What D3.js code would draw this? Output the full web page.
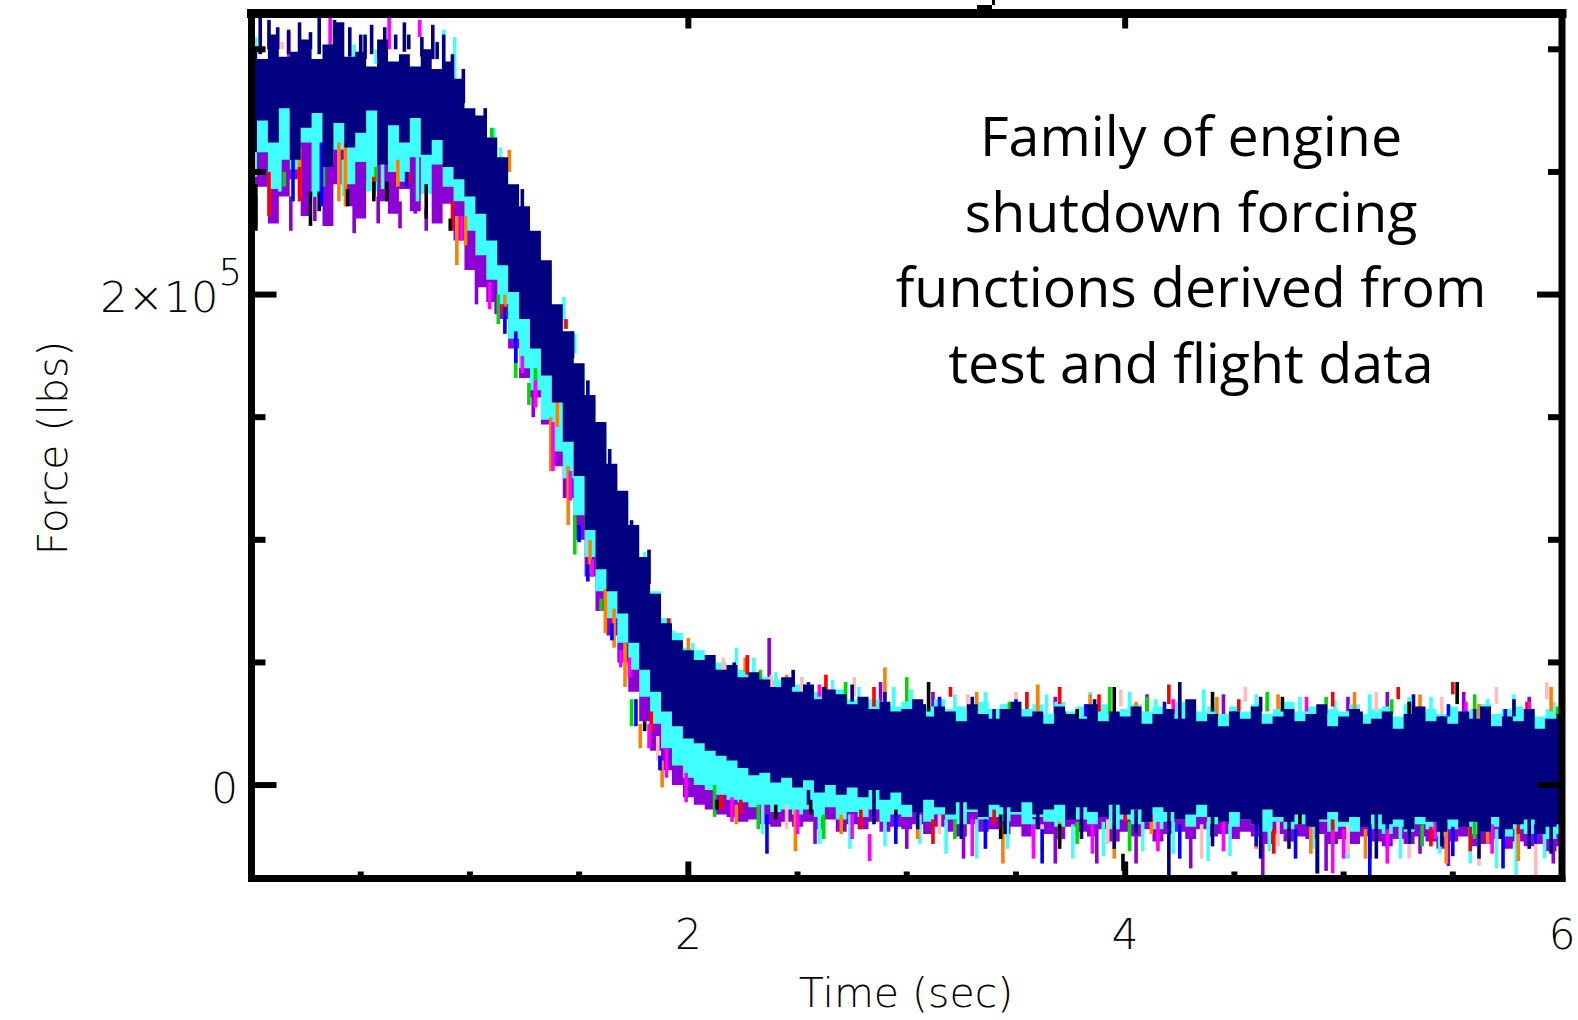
<!DOCTYPE html>
<html>
<head>
<meta charset="utf-8">
<script src="https://cdn.jsdelivr.net/npm/d3@7"></script>
<style>
  body { margin: 0; background: #fff; }
  svg { display: block; }
  .axis-text { font-family: "DejaVu Sans", sans-serif; font-weight: 200; fill: #000; }
  .note { font-family: "Open Sans", Lato, sans-serif; fill: #000; }
</style>
</head>
<body>
<div id="chart"></div>
<script>
// Sample times (sec) for the band edges
const tBand = [0,0.05,0.1,0.15,0.2,0.25,0.3,0.35,0.4,0.45,
  0.5,0.55,0.6,0.65,0.7,0.75,0.8,0.85,0.9,0.95,
  1,1.05,1.1,1.15,1.2,1.25,1.3,1.35,1.4,1.45,
  1.5,1.55,1.6,1.65,1.7,1.75,1.8,1.85,1.9,1.95,
  2,2.05,2.1,2.15,2.2,2.25,2.3,2.35,2.4,2.45,
  2.5,2.55,2.6,2.65,2.7,2.75,2.8,2.85,2.9,2.95,
  3,3.05,3.1,3.15,3.2,3.25,3.3,3.35,3.4,3.45,
  3.5,3.55,3.6,3.65,3.7,3.75,3.8,3.85,3.9,3.95,
  4,4.05,4.1,4.15,4.2,4.25,4.3,4.35,4.4,4.45,
  4.5,4.55,4.6,4.65,4.7,4.75,4.8,4.85,4.9,4.95,
  5,5.05,5.1,5.15,5.2,5.25,5.3,5.35,5.4,5.45,
  5.5,5.55,5.6,5.65,5.7,5.75,5.8,5.85,5.9,5.95,
  6];

// Band edges in thousands of lbs
const navyHi = [301,296,306,297,299,304,296,302,311,297,
  299,293,304,295,298,293,300,292,295,288,
  276,273,264,256,245,236,226,214,196,185,
  172,159,148,131,120,106,93,78,66,59,
  55,51,53,47,49,44,46,43,40,44,
  38,41,35,39,37,33,36,31,34,30,
  31,35,28,32,30,26,33,29,27,31,
  34,28,30,25,32,29,27,33,26,30,
  28,32,25,29,31,27,35,26,29,24,
  30,27,32,25,28,31,26,29,33,24,
  28,31,25,27,30,23,29,32,26,28,
  25,30,27,32,24,28,26,31,23,27,
  29];
const navyLo = [258,271,262,276,255,268,274,252,270,260,
  266,275,253,269,262,272,257,263,252,247,
  240,233,222,212,201,190,178,167,156,140,
  126,104,88,79,70,58,47,38,30,24,
  19,17,14,12,10,7,4,5,1,3,
  -1,2,-3,0,-4,-1,-5,-2,-6,-3,
  -8,-11,-6,-9,-12,-7,-10,-13,-8,-9,
  -11,-7,-12,-10,-8,-14,-9,-11,-13,-8,
  -12,-10,-15,-9,-11,-14,-12,-8,-13,-15,
  -11,-14,-16,-10,-13,-15,-12,-17,-14,-11,
  -15,-13,-17,-12,-16,-14,-18,-13,-15,-19,
  -14,-17,-15,-19,-13,-18,-16,-14,-20,-17,
  -16];
const cyanHi = [286,284,288,283,287,285,289,284,286,282,
  287,285,283,288,284,286,283,285,282,280,
  270,266,262,252,243,232,222,210,193,182,
  170,158,145,128,117,104,92,79,68,62,
  56,55,52,50,47,47,45,44,43,42,
  41,40,38,37,39,35,34,35,33,32,
  34,33,32,35,31,32,30,34,31,33,
  32,31,33,29,34,30,32,31,33,29,
  31,33,30,32,29,34,31,30,32,29,
  32,30,33,29,31,34,30,32,29,31,
  30,33,29,31,32,28,33,30,31,29,
  32,30,31,33,29,31,32,30,28,31,
  30];
const cyanLo = [248,258,243,255,251,262,240,253,259,245,
  254,242,257,250,246,256,241,253,244,238,
  226,216,206,196,182,170,161,149,136,125,
  110,93,79,68,58,47,36,25,15,8,
  3,0,-2,-4,-6,-7,-9,-8,-11,-10,
  -12,-10,-13,-9,-14,-11,-13,-10,-15,-12,
  -13,-11,-15,-12,-14,-16,-11,-14,-13,-15,
  -12,-16,-13,-15,-17,-12,-14,-16,-13,-18,
  -14,-16,-13,-18,-15,-14,-17,-13,-16,-15,
  -17,-14,-16,-19,-15,-18,-16,-17,-15,-19,
  -17,-19,-16,-18,-20,-17,-19,-16,-18,-21,
  -18,-16,-20,-19,-17,-21,-18,-20,-19,-22,
  -20];
const purpleHi = [268,270,266,269,267,271,265,268,270,266,
  269,267,270,265,268,266,269,267,264,255,
  245,235,225,212,200,188,178,166,153,142,
  128,110,96,85,75,64,52,40,30,22,
  18,16,15,14,15,13,14,12,13,12,
  13,12,14,13,12,15,13,14,12,13,
  14,12,13,15,12,14,13,12,15,13,
  12,14,13,12,15,13,14,12,13,14,
  13,12,15,13,14,12,13,15,12,14,
  12,13,14,12,15,13,12,14,13,12,
  14,13,12,15,13,12,14,13,15,12,
  13,14,12,13,15,12,14,13,12,14,
  13];
const purpleLo = [236,244,229,240,247,232,242,228,245,236,
  231,246,238,233,243,234,241,229,237,222,
  210,203,197,190,178,166,158,147,130,117,
  100,85,71,61,50,38,26,14,6,0,
  -5,-8,-10,-12,-13,-15,-14,-16,-17,-15,
  -17,-15,-18,-14,-19,-16,-18,-15,-19,-17,
  -18,-16,-20,-17,-19,-21,-16,-19,-18,-20,
  -17,-21,-18,-20,-22,-17,-19,-21,-18,-23,
  -19,-21,-18,-23,-20,-19,-22,-18,-21,-20,
  -22,-19,-21,-24,-20,-23,-21,-22,-20,-24,
  -22,-24,-21,-23,-25,-22,-24,-21,-23,-26,
  -23,-21,-25,-24,-22,-26,-23,-25,-24,-27,
  -25];

// Spikes: [time, low, high] in thousands of lbs
const navySpikes = [[0.04,298,313],[0.08,300,312],[0.12,300,309],[0.17,298,308],[0.22,298,311],
  [0.27,300,307],[0.31,298,313],[0.38,300,312],[0.45,297,309],[0.50,298,306],[0.52,296,306],
  [0.55,298,310],[0.61,298,309],[0.66,300,306],[0.70,299,311],[0.72,300,306],[0.78,297,305],
  [0.83,296,310],[0.85,296,303],[0.88,292,306],[0.92,286,298],
  [0.97,278,292],[1.07,262,276],[1.24,230,243],[1.47,174,185],[1.54,152,165],
  [1.64,128,137],[1.74,100,108],[1.82,82,96],[2.21,42,50],[2.48,40,47],[2.62,30,39],
  [2.75,34,41],[3.08,24,33],[3.30,30,36],[3.40,20,31],[3.72,20,30],[3.86,30,35],[4.25,20,42],
  [4.50,20,30],[4.62,30,36],[4.88,19,29],[5.08,18,30],[5.32,29,37],[5.45,19,28],[5.60,20,31],
  [5.78,28,35],[5.93,19,27],
  [2.55,-8,-2],[2.85,-16,-2],[3.05,-18,-6],[3.25,-22,-6],[3.45,-20,-8],[3.60,-18,-5],
  [3.80,-22,-8],[3.95,-26,-8],[4.05,-20,-10],[4.20,-37,-8],[4.40,-25,-8],[4.62,-30,-9],
  [4.75,-26,-12],[4.88,-36,-10],[5.15,-30,-10],[5.30,-24,-12],[5.45,-25,-10],[5.62,-30,-14],
  [5.72,-22,-12],[5.85,-26,-14],[5.95,-28,-12]];
const cyanSpikes = [[0.02,284,305],[0.10,296,303],[0.47,293,302],[0.57,294,300],[0.88,290,308],
  [0.93,286,305],[0.00,240,262],[0.13,242,258],[0.30,244,260],[0.42,240,255],[0.60,243,258],
  [0.76,238,256],[1.11,256,268],[1.14,250,260],[1.43,186,199],[1.48,176,184],[1.61,130,138],
  [1.69,112,119],[1.76,88,96],[1.80,86,95],[1.86,64,76],[1.93,56,63],[2.02,46,58],[2.06,44,55],
  [2.22,44,56],[2.30,42,52],[2.40,38,46],[2.52,35,44],[2.66,34,43],[2.78,32,40],[2.94,31,40],
  [3.02,30,39],[3.22,28,37],[3.36,30,38],[3.50,28,36],[3.64,29,37],[3.84,28,38],[4.02,28,38],
  [4.14,27,35],[4.36,29,39],[4.60,28,37],[4.80,28,36],[4.96,27,35],[5.12,28,37],[5.30,26,36],
  [5.40,27,36],[5.66,27,35],[5.78,27,37],[5.96,26,34],
  [2.34,-20,-8],[2.60,-24,-12],[2.74,-26,-12],[2.90,-25,-14],[3.06,-24,-12],[3.18,-28,-14],
  [3.32,-30,-14],[3.46,-26,-15],[3.58,-26,-14],[3.76,-30,-16],[3.90,-29,-15],[4.08,-27,-15],
  [4.22,-28,-15],[4.38,-31,-15],[4.48,-29,-16],[4.66,-27,-15],[4.86,-26,-15],[5.02,-30,-16],
  [5.26,-30,-16],[5.44,-28,-16],[5.58,-32,-17],[5.70,-34,-18],[5.79,-37,-18],[5.92,-30,-18]];
const purpleSpikes = [[0.02,228,240],[0.18,226,240],[0.29,230,240],[0.47,225,238],[0.58,229,240],
  [0.68,227,238],[0.75,233,242],[0.80,226,235],[1.03,196,214],[1.12,192,205],[1.29,150,165],
  [2.37,44,60],[2.88,34,42],[3.12,28,38],[3.68,28,36],[4.10,30,37],[4.45,28,37],[5.02,30,36],
  [5.20,29,38],[5.55,28,38],[5.85,27,36],
  [2.58,-24,-14],[3.00,-26,-12],[3.26,-30,-16],[3.68,-32,-14],[3.87,-32,-16],[4.05,-32,-15],
  [4.30,-34,-18],[4.63,-40,-18],[4.92,-35,-20],[5.35,-28,-16],[5.48,-33,-20],[5.96,-32,-20]];
const blackSpikes = [[0.02,226,245],[0.27,228,242],[0.31,234,242],[0.44,236,243],[0.56,238,246],
  [0.62,238,246],[0.80,231,245],[0.91,226,231],[1.80,22,26],[2.13,-10,-6],[2.40,-14,-8],
  [2.56,-12,-6],[2.62,30,40],[2.95,-18,-10],[3.10,30,42],[3.43,-22,-12],[3.70,-26,-16],
  [3.78,26,31],[3.95,28,40],[3.99,-35,-28],[4.40,30,38],[4.72,30,36],[4.80,-16,-8],
  [4.88,-36,-18],[5.12,-30,-18],[5.30,29,34],[5.52,33,42],[5.73,-20,-12]];
const redSpikes = [[0.08,232,250],[0.22,238,252],[0.56,240,248],[0.72,245,250],[0.92,226,238],
  [1.15,192,196],[1.44,186,190],[1.83,22,30],[1.91,64,68],[2.15,-10,-4],[2.24,-12,-6],
  [2.27,45,53],[2.63,34,45],[2.79,-18,-10],[2.85,32,40],[3.12,-24,-14],[3.20,36,40],
  [3.40,-16,-10],[3.55,31,38],[3.70,33,40],[3.88,30,37],[4.00,-15,-9],[4.20,33,41],
  [4.52,30,35],[4.68,-28,-18],[4.95,32,38],[4.95,-22,-14],[5.25,35,40],[5.40,-25,-17],
  [5.50,37,42],[5.58,-27,-17],[5.80,-20,-12],[5.84,30,34]];
const orangeSpikes = [[0.22,240,260],[0.40,238,262],[0.43,236,262],[0.67,244,255],[0.94,212,232],
  [0.98,220,232],[1.16,186,200],[1.18,250,259],[1.37,128,150],[1.40,146,160],[1.45,106,130],
  [1.55,86,100],[1.62,62,80],[1.66,56,72],[1.71,40,58],[1.78,15,25],[1.88,-1,10],[2.00,52,60],
  [2.22,-16,-8],[2.26,46,52],[2.45,38,45],[2.49,-27,-10],[2.70,-20,-12],[2.90,35,48],
  [3.05,-22,-14],[3.32,30,38],[3.44,-32,-16],[3.60,30,41],[3.70,-24,-15],[3.84,30,37],
  [3.95,-30,-16],[4.05,30,34],[4.12,-20,-12],[4.42,28,36],[4.60,-26,-15],[4.70,31,37],
  [4.85,-28,-16],[5.05,30,38],[5.10,-30,-18],[5.35,30,37],[5.47,-32,-15],[5.62,26,33],
  [5.66,-24,-14],[5.80,-31,-18],[5.95,30,40]];
const greenSpikes = [[0.15,244,250],[0.33,244,258],[0.57,246,252],[1.10,264,268],[1.13,188,200],
  [1.21,166,180],[1.27,155,164],[1.30,154,170],[1.48,94,110],[1.60,71,76],[1.74,24,35],
  [2.12,-13,0],[2.32,-18,-8],[2.33,40,47],[2.62,-22,-12],[2.72,33,42],[3.00,34,44],
  [3.22,-22,-14],[3.47,28,34],[3.78,-24,-15],[3.93,29,40],[4.02,-27,-15],[4.10,30,36],
  [4.40,-20,-12],[4.65,30,38],[4.92,29,36],[4.95,-25,-15],[5.22,29,35],[5.36,-25,-16],
  [5.60,30,37],[5.60,-22,-14],[5.98,26,32]];
const blueSpikes = [[0.00,248,262],[0.19,238,256],[0.32,236,262],[0.71,244,250],[1.16,184,195],
  [1.21,172,185],[1.50,99,106],[1.54,83,90],[1.65,59,66],[1.76,24,35],[1.87,6,12],[2.36,-28,-12],
  [2.55,36,42],[2.90,32,38],[2.95,-24,-12],[3.15,30,36],[3.36,-26,-14],[3.50,29,35],
  [3.62,-32,-18],[3.82,28,33],[4.18,28,34],[4.25,-30,-16],[4.60,-25,-15],[4.78,-30,-18],
  [4.90,27,32],[5.12,-40,-16],[5.20,-26,-14],[5.48,28,33],[5.50,-29,-17],[5.73,-34,-16],
  [5.74,26,31],[5.88,-24,-16]];
const magentaSpikes = [[0.17,293,307],[0.36,300,313],[0.63,300,314],[0.77,305,312],[0.79,288,300],
  [0.96,222,232],[1.09,194,205],[1.24,168,175],[1.30,154,165],[1.38,128,148],[1.46,116,128],
  [1.56,85,92],[1.69,48,55],[1.73,44,52],[1.82,15,25],[1.90,3,15],[1.99,-7,5],[2.20,-15,-5],
  [2.50,-20,-10],[2.60,36,41],[2.75,-22,-12],[2.83,-31,-20],[3.04,28,34],[3.30,-29,-14],
  [3.58,-30,-16],[3.85,-28,-16],[4.15,-27,-15],[4.22,29,35],[4.45,-27,-15],[4.83,30,36],
  [4.95,-36,-18],[5.00,-30,-18],[5.20,-32,-18],[5.42,-22,-12],[5.56,28,34],[5.68,-28,-16],
  [5.85,28,34],[5.90,-20,-14]];
const pinkSpikes = [[0.14,300,303],[0.58,296,300],[1.84,70,76],[1.86,10,20],[2.16,46,52],
  [2.38,38,45],[2.45,-18,-8],[2.52,38,44],[2.76,36,44],[3.15,-20,-12],[3.28,30,37],
  [3.50,31,38],[3.62,-28,-16],[3.92,-24,-14],[3.98,32,39],[4.25,30,38],[4.35,-30,-16],
  [4.55,34,40],[4.70,-25,-15],[5.02,-28,-16],[5.15,30,38],[5.30,-30,-18],[5.45,29,36],
  [5.62,-33,-18],[5.70,33,40],[5.88,-37,-18],[5.93,35,42]];

// Axis ticks (time in sec, force in thousands of lbs)
const xMajor = [2, 4];
const xMinor = [0.5, 1, 1.5, 2.5, 3, 3.5, 4.5, 5, 5.5];
const xTickLabels = [2, 4, 6];
const yMajor = [0, 200];
const yMinor = [50, 100, 150, 250, 300];

const noteLines = ["Family of engine", "shutdown forcing", "functions derived from", "test and flight data"];

const colors = {
  navy: "#000080", cyan: "#40ffff", purple: "#8c00d6", black: "#000000",
  red: "#ff0000", orange: "#ff8000", green: "#00d800", blue: "#0000ff",
  magenta: "#ff00ff", pink: "#ffbcbc"
};

const width = 1578, height = 1020;
const frame = { left: 251.5, right: 1562, top: 13.5, bottom: 878.5 };

const svg = d3.select("#chart").append("svg")
  .attr("width", width).attr("height", height)
  .style("background", "#fff");

const x = d3.scaleLinear().domain([0, 6]).range([frame.left, frame.right]);
const y = d3.scaleLinear().domain([-38.1, 314.6]).range([frame.bottom, frame.top]);

svg.append("clipPath").attr("id", "plot-clip")
  .append("rect")
  .attr("x", frame.left).attr("y", frame.top)
  .attr("width", frame.right - frame.left).attr("height", frame.bottom - frame.top);

const plot = svg.append("g").attr("clip-path", "url(#plot-clip)");

// Filled band between two edges, stepped like the sampled data
function drawBand(lo, hi, color) {
  const area = d3.area()
    .x((d, i) => x(tBand[i]))
    .y0((d, i) => y(lo[i]))
    .y1((d, i) => y(hi[i]))
    .curve(d3.curveStep);
  plot.append("path").datum(tBand).attr("d", area).attr("fill", color);
}

function drawSpikes(list, color) {
  plot.append("g").selectAll("rect").data(list).join("rect")
    .attr("x", d => x(d[0]) - 1.8)
    .attr("width", 3.6)
    .attr("y", d => y(d[2]))
    .attr("height", d => y(d[1]) - y(d[2]))
    .attr("fill", color);
}

drawBand(purpleLo, purpleHi, colors.purple);
drawSpikes(purpleSpikes, colors.purple);
drawBand(cyanLo, cyanHi, colors.cyan);
drawSpikes(cyanSpikes, colors.cyan);
drawSpikes(pinkSpikes, colors.pink);
drawSpikes(orangeSpikes, colors.orange);
drawSpikes(greenSpikes, colors.green);
drawSpikes(redSpikes, colors.red);
drawSpikes(blackSpikes, colors.black);
drawSpikes(blueSpikes, colors.blue);
drawSpikes(magentaSpikes, colors.magenta);
drawBand(navyLo, navyHi, colors.navy);
drawSpikes(navySpikes, colors.navy);

// Ticks (all pointing inward)
const ticks = svg.append("g").attr("stroke", "#000").attr("stroke-width", 6);
xMajor.forEach(t => {
  ticks.append("line").attr("x1", x(t)).attr("x2", x(t)).attr("y1", frame.bottom).attr("y2", frame.bottom - 17);
  ticks.append("line").attr("x1", x(t)).attr("x2", x(t)).attr("y1", frame.top).attr("y2", frame.top + 15);
});
xMinor.forEach(t => {
  ticks.append("line").attr("x1", x(t)).attr("x2", x(t)).attr("y1", frame.bottom).attr("y2", frame.bottom - 7);
});
yMajor.forEach(v => {
  ticks.append("line").attr("x1", frame.left).attr("x2", frame.left + 25).attr("y1", y(v)).attr("y2", y(v));
  ticks.append("line").attr("x1", frame.right).attr("x2", frame.right - 25).attr("y1", y(v)).attr("y2", y(v));
});
yMinor.forEach(v => {
  ticks.append("line").attr("x1", frame.left).attr("x2", frame.left + 14).attr("y1", y(v)).attr("y2", y(v));
  ticks.append("line").attr("x1", frame.right).attr("x2", frame.right - 14).attr("y1", y(v)).attr("y2", y(v));
});

// Frame
const box = svg.append("g").attr("stroke", "#000").attr("stroke-linecap", "square");
box.append("line").attr("x1", frame.left).attr("x2", frame.right).attr("y1", frame.top).attr("y2", frame.top).attr("stroke-width", 9);
box.append("line").attr("x1", frame.left).attr("x2", frame.right).attr("y1", frame.bottom).attr("y2", frame.bottom).attr("stroke-width", 7);
box.append("line").attr("x1", frame.left).attr("x2", frame.left).attr("y1", frame.top).attr("y2", frame.bottom).attr("stroke-width", 7);
box.append("line").attr("x1", frame.right).attr("x2", frame.right).attr("y1", frame.top).attr("y2", frame.bottom).attr("stroke-width", 7);

// Cut-off fragment of a heading above the frame
svg.append("path").attr("d", "M977,5H995V0H992V9H977Z").attr("fill", "#000");

// Tick labels
svg.append("g").selectAll("text").data(xTickLabels).join("text")
  .attr("class", "axis-text")
  .attr("x", d => x(d)).attr("y", 949)
  .attr("text-anchor", "middle").attr("font-size", 42)
  .text(d => d);

svg.append("text").attr("class", "axis-text")
  .attr("x", 238).attr("y", 803).attr("text-anchor", "end").attr("font-size", 42)
  .text("0");

const expLabel = svg.append("text").attr("class", "axis-text")
  .attr("x", 242).attr("y", 312).attr("text-anchor", "end").attr("font-size", 43);
expLabel.append("tspan").text("2×10");
expLabel.append("tspan").attr("dy", -27).attr("font-size", 37).text("5");

// Axis titles
svg.append("text").attr("class", "axis-text")
  .attr("x", 906).attr("y", 1007).attr("text-anchor", "middle").attr("font-size", 41)
  .text("Time (sec)");

svg.append("text").attr("class", "axis-text")
  .attr("transform", "translate(67,448) rotate(-90)")
  .attr("text-anchor", "middle").attr("font-size", 41)
  .text("Force (lbs)");

// Annotation
svg.append("g").selectAll("text").data(noteLines).join("text")
  .attr("class", "note")
  .attr("x", 1191).attr("y", (d, i) => 156 + i * 75.5)
  .attr("text-anchor", "middle").attr("font-size", 55.5)
  .text(d => d);
</script>
</body>
</html>
